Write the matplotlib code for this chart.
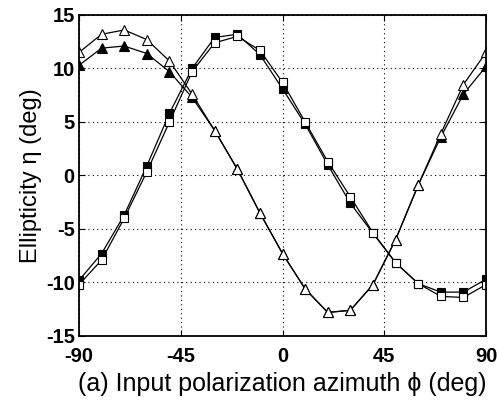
import matplotlib
matplotlib.use("Agg")
import matplotlib.pyplot as plt

plt.rcParams['font.family'] = ['Liberation Sans', 'DejaVu Sans']
plt.rcParams['axes.unicode_minus'] = False

# azimuth of input polarization (deg)
phi = [-90, -80, -70, -60, -50, -40, -30, -20, -10, 0,
       10, 20, 30, 40, 50, 60, 70, 80, 90]

# ellipticity, triangles
tri_open = [11.5, 13.2, 13.6, 12.7, 10.7, 7.6, 4.2, 0.6, -3.5, -7.3,
            -10.6, -12.8, -12.6, -10.2, -6.0, -0.9, 3.9, 8.5, 11.5]
tri_fill = [10.3, 11.9, 12.1, 11.4, 9.7, 7.3, 4.2, 0.6, -3.5, -7.3,
            -10.6, -12.8, -12.6, -10.2, -6.0, -0.9, 3.6, 7.6, 10.2]

# ellipticity, squares
sq_open = [-10.2, -7.9, -4.0, 0.35, 5.0, 9.7, 12.4, 13.0, 11.7, 8.7,
           5.0, 1.3, -2.0, -5.35, -8.15, -10.1, -11.3, -11.4, -10.2]
sq_fill = [-9.8, -7.3, -3.7, 0.9, 5.8, 10.0, 12.9, 13.2, 11.3, 8.1,
           4.8, 1.0, -2.6, -5.4, -8.15, -10.1, -10.9, -10.9, -9.7]

fig = plt.figure(figsize=(4.98, 4.03), dpi=100)
ax = fig.add_axes([0.1586, 0.1663, 0.8174, 0.7965])

ax.plot(phi, tri_fill, '-^', color='black', lw=0.9, ms=7,
        mfc='black', mec='black', mew=0.8)
ax.plot(phi, sq_fill, '-s', color='black', lw=0.9, ms=6,
        mfc='black', mec='black', mew=0.8)
ax.plot(phi, tri_open, '-^', color='black', lw=0.9, ms=7,
        mfc='white', mec='black', mew=0.8)
ax.plot(phi, sq_open, '-s', color='black', lw=0.9, ms=6,
        mfc='white', mec='black', mew=0.8)

ax.set_xlim(-90, 90)
ax.set_ylim(-15, 15)
ax.set_xticks([-90, -45, 0, 45, 90])
ax.set_yticks([-15, -10, -5, 0, 5, 10, 15])
ax.grid(True, color='black', linestyle=(0, (1, 3)), linewidth=0.8)
ax.tick_params(direction='in', top=True, right=True, length=4,
               labelsize=14.5)
ax.tick_params(axis='x', pad=8)
ax.tick_params(axis='y', pad=3)
for lab in ax.get_xticklabels() + ax.get_yticklabels():
    lab.set_fontweight('bold')
for sp in ax.spines.values():
    sp.set_linewidth(1.3)

ax.set_xlabel('(a) Input polarization azimuth \u03d5 (deg)', fontsize=18,
              labelpad=4)
ax.set_ylabel('Ellipticity \u03b7 (deg)', fontsize=17, labelpad=3)

fig.savefig('out.png', dpi=100)
